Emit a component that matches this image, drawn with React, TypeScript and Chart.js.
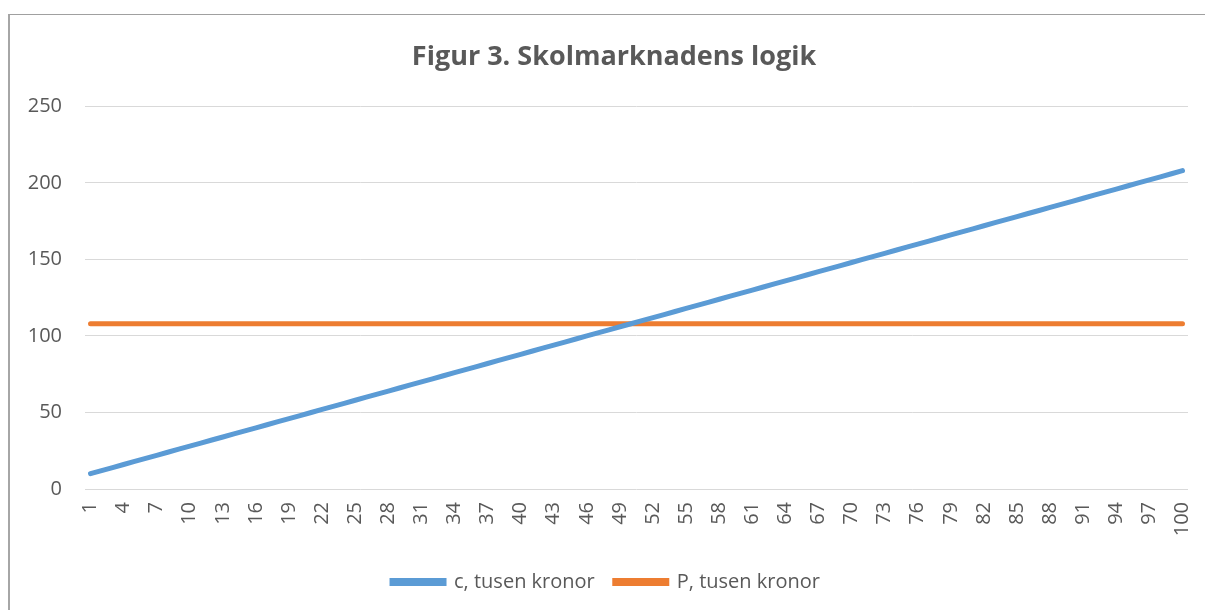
import React, { useEffect, useRef } from "react";
import { Chart, registerables } from "chart.js";

Chart.register(...registerables);

const categories: string[] = [
  "1","2","3","4","5","6","7","8","9","10",
  "11","12","13","14","15","16","17","18","19","20",
  "21","22","23","24","25","26","27","28","29","30",
  "31","32","33","34","35","36","37","38","39","40",
  "41","42","43","44","45","46","47","48","49","50",
  "51","52","53","54","55","56","57","58","59","60",
  "61","62","63","64","65","66","67","68","69","70",
  "71","72","73","74","75","76","77","78","79","80",
  "81","82","83","84","85","86","87","88","89","90",
  "91","92","93","94","95","96","97","98","99","100",
];

const cValues: number[] = [
  10, 12, 14, 16, 18, 20, 22, 24, 26, 28,
  30, 32, 34, 36, 38, 40, 42, 44, 46, 48,
  50, 52, 54, 56, 58, 60, 62, 64, 66, 68,
  70, 72, 74, 76, 78, 80, 82, 84, 86, 88,
  90, 92, 94, 96, 98, 100, 102, 104, 106, 108,
  110, 112, 114, 116, 118, 120, 122, 124, 126, 128,
  130, 132, 134, 136, 138, 140, 142, 144, 146, 148,
  150, 152, 154, 156, 158, 160, 162, 164, 166, 168,
  170, 172, 174, 176, 178, 180, 182, 184, 186, 188,
  190, 192, 194, 196, 198, 200, 202, 204, 206, 208,
];

const pValues: number[] = [
  108, 108, 108, 108, 108, 108, 108, 108, 108, 108,
  108, 108, 108, 108, 108, 108, 108, 108, 108, 108,
  108, 108, 108, 108, 108, 108, 108, 108, 108, 108,
  108, 108, 108, 108, 108, 108, 108, 108, 108, 108,
  108, 108, 108, 108, 108, 108, 108, 108, 108, 108,
  108, 108, 108, 108, 108, 108, 108, 108, 108, 108,
  108, 108, 108, 108, 108, 108, 108, 108, 108, 108,
  108, 108, 108, 108, 108, 108, 108, 108, 108, 108,
  108, 108, 108, 108, 108, 108, 108, 108, 108, 108,
  108, 108, 108, 108, 108, 108, 108, 108, 108, 108,
];

const seriesNames = ["c, tusen kronor", "P, tusen kronor"];
const titleText = "Figur 3. Skolmarknadens logik";

const FONT = "'Open Sans', 'DejaVu Sans', sans-serif";
const TEXT = "#595959";

const titleShift = {
  id: "titleShift",
  afterLayout(chart: any) {
    const tb = chart.titleBlock;
    if (tb) tb.left += 30;
    const lg = chart.legend;
    if (lg) {
      lg.left += 7;
      lg.right += 7;
    }
  },
};

export default function App() {
  const ref = useRef<HTMLCanvasElement | null>(null);

  useEffect(() => {
    if (!ref.current) return;
    const chart = new Chart(ref.current, {
      type: "line",
      data: {
        labels: categories,
        datasets: [
          {
            label: seriesNames[0],
            data: cValues,
            borderColor: "#5B9BD5",
            backgroundColor: "#5B9BD5",
            borderWidth: 5,
            borderCapStyle: "round",
            pointRadius: 0,
            tension: 0,
          },
          {
            label: seriesNames[1],
            data: pValues,
            borderColor: "#ED7D31",
            backgroundColor: "#ED7D31",
            borderWidth: 5,
            borderCapStyle: "round",
            pointRadius: 0,
            tension: 0,
          },
        ],
      },
      plugins: [titleShift],
      options: {
        animation: false,
        responsive: true,
        maintainAspectRatio: false,
        layout: { padding: { left: 0, right: 17, top: 0, bottom: 8 } },
        plugins: {
          tooltip: { enabled: false },
          title: {
            display: true,
            text: titleText,
            color: TEXT,
            font: { family: FONT, size: 27, weight: "bold" },
            padding: { top: 26, bottom: 33 },
          },
          legend: {
            position: "bottom",
            labels: {
              color: TEXT,
              font: { family: FONT, size: 20 },
              boxWidth: 52,
              boxHeight: 3,
              padding: 20,
            },
          },
        },
        scales: {
          x: {
            offset: true,
            grid: { display: false, drawTicks: false },
            border: { display: false },
            ticks: {
              autoSkip: false,
              minRotation: 90,
              maxRotation: 90,
              padding: 13,
              color: TEXT,
              font: { family: FONT, size: 20 },
              callback: (_v: any, i: number) => (i % 3 === 0 ? categories[i] : ""),
            },
            afterFit: (scale: any) => {
              scale.height = 63;
              scale.paddingLeft = 0;
              scale.paddingRight = 0;
            },
          },
          y: {
            min: 0,
            max: 250,
            grid: { color: "#d9d9d9", lineWidth: 1, drawTicks: false },
            border: { display: false },
            ticks: {
              stepSize: 50,
              padding: 23,
              color: TEXT,
              font: { family: FONT, size: 20 },
            },
            afterFit: (scale: any) => {
              scale.width = 75;
            },
          },
        },
      },
    });
    return () => chart.destroy();
  }, []);

  return (
    <div
      style={{
        position: "absolute",
        left: 8,
        top: 14,
        width: 1197,
        height: 596,
        boxSizing: "border-box",
        borderTop: "1px solid #a0a0a0",
        borderLeft: "2px solid #a6a6a6",
        background: "#fff",
      }}
    >
      <div style={{ position: "relative", width: 1195, height: 595 }}>
        <canvas ref={ref} />
      </div>
    </div>
  );
}
